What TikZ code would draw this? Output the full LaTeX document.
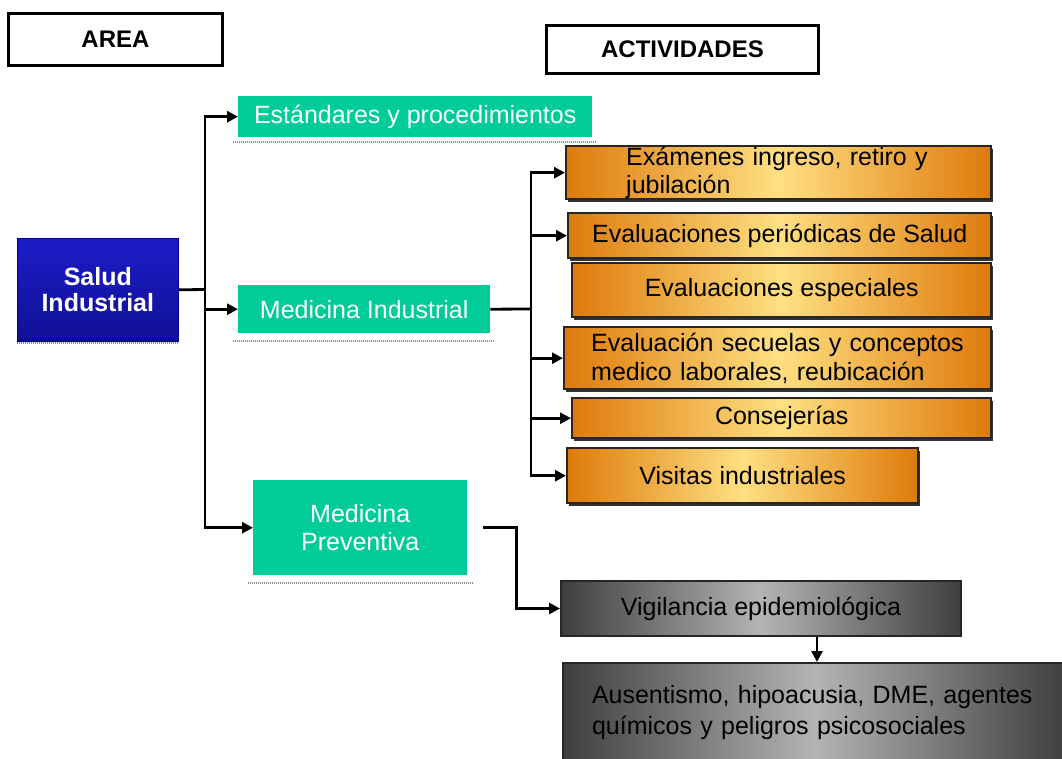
\documentclass[tikz,border=0pt]{standalone}
\usepackage{fontspec}
\setmainfont{Liberation Sans}
\usetikzlibrary{arrows.meta,shadows}
\definecolor{tealc}{RGB}{0,204,153}
\definecolor{orD}{RGB}{222,122,12}
\definecolor{orL}{RGB}{255,224,130}
\definecolor{grD}{RGB}{62,62,62}
\definecolor{grL}{RGB}{180,180,180}
\definecolor{blT}{RGB}{28,28,200}
\definecolor{blB}{RGB}{16,16,150}
\begin{document}
\begin{tikzpicture}[x=1pt,y=-1pt,
  every node/.style={font=\fontsize{25}{28}\selectfont, inner sep=0pt, anchor=north west},
  header/.style={draw=black, line width=3pt, font=\fontsize{24}{28}\selectfont\bfseries},
  tealbox/.style={fill=tealc, text=white, align=center},
  bluebox/.style={top color=blT, bottom color=blB, draw=blue!60!black, line width=0.6pt, text=white, align=center, font=\fontsize{25}{26}\selectfont\bfseries},
  orbox/.style={draw=black!85, line width=2.4pt, left color=orD, right color=orD, middle color=orL, align=center,
     drop shadow={shadow xshift=2pt, shadow yshift=-3pt, fill=black, opacity=.8}},
  graybox/.style={draw=black!85, line width=2pt, left color=grD, right color=grD, middle color=grL, align=left},
  conn/.style={line width=2.8pt},
  arr/.style={conn, -{Triangle[length=11pt,width=11pt]}},
  shadowline/.style={black!45, line width=2pt, dash pattern=on 1pt off 1pt}
]
\useasboundingbox (0,0) rectangle (1062,758);

% headers
\node[header, minimum width=214pt, minimum height=52pt] (area) at (7,12) {AREA};
\node[header, minimum width=272pt, minimum height=48pt] (act) at (545,24) {ACTIVIDADES};

% shadow lines under teal / blue boxes
\draw[shadowline] (17,343) -- (178,343);
\draw[shadowline] (233,142) -- (597,142);
\draw[shadowline] (233,341) -- (495,341);
\draw[shadowline] (248,583) -- (473,583);

% area
\node[bluebox, minimum width=161pt, minimum height=103pt] (sal) at (17,238) {Salud\\Industrial};

% teal boxes
\node[tealbox, minimum width=354pt, minimum height=41pt] (es) at (238,96) {Estándares y procedimientos};
\node[tealbox, minimum width=252pt, minimum height=48pt] (mi) at (238,285) {Medicina Industrial};
\node[tealbox, minimum width=214pt, minimum height=95pt] (mp) at (253,480) {Medicina\\Preventiva};

% orange boxes
\node[orbox, minimum width=425pt, minimum height=53pt, text width=305pt, align=left] (ex) at (565,145) {Exámenes ingreso, retiro y\\jubilación};
\node[orbox, minimum width=423pt, minimum height=45pt] (ep) at (567,212) {Evaluaciones periódicas de Salud};
\node[orbox, minimum width=419pt, minimum height=54pt] (ee) at (571,262) {Evaluaciones especiales};
\node[orbox, minimum width=427pt, minimum height=62pt, text width=373pt, align=left, font=\fontsize{25}{29}\selectfont] (sec) at (563,326) {Evaluación secuelas y conceptos\\medico laborales, reubicación};
\node[orbox, minimum width=419pt, minimum height=40pt] (co) at (571,397) {Consejerías};
\node[orbox, minimum width=351pt, minimum height=55pt] (vi) at (566,447) {Visitas industriales};

% gray boxes
\node[graybox, minimum width=400pt, minimum height=55pt, align=center] (vig) at (560,580) {Vigilancia epidemiológica};
\node[graybox, minimum width=504pt, minimum height=100pt, text width=446pt, align=left, font=\fontsize{25}{31}\selectfont] (aus) at (562,662) {Ausentismo, hipoacusia, DME, agentes\\químicos y peligros psicosociales};

% connectors from Salud Industrial
\coordinate (b1) at (205,289.5);
\draw[conn] (sal.east) -- (b1);
\draw[arr] (b1) |- (es.west);
\draw[arr] (b1) |- (mp.west);
\draw[arr] (b1 |- mi.west) -- (mi.west);

% connectors from Medicina Industrial
\coordinate (b2) at (531,309);
\draw[conn] (mi.east) -- (b2);
\draw[arr] (b2) |- (ex.west);
\draw[arr] (b2) |- (vi.west);
\draw[arr] (b2 |- ep.west) -- (ep.west);
\draw[arr] (b2 |- sec.west) -- (sec.west);
\draw[arr] (b2 |- co.west) -- (co.west);

% Medicina Preventiva to Vigilancia
\draw[arr] ([xshift=16pt]mp.east) -- ++(33,0) |- (vig.west);

% Vigilancia to Ausentismo
\draw[arr] ([xshift=56pt]vig.south) -- ([xshift=56pt]vig.south |- aus.north);
\end{tikzpicture}
\end{document}
